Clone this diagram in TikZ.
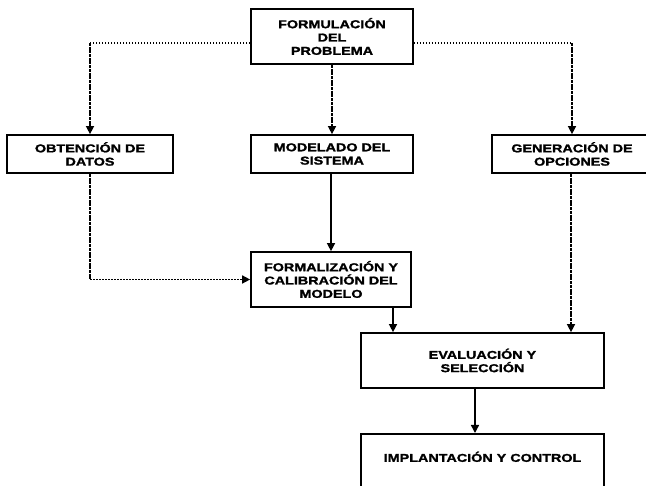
\documentclass[tikz,border=0pt]{standalone}
\usepackage{fontspec}
\newfontfamily\boxfont[FakeStretch=1.26, BoldFeatures={FakeBold=1.6}]{Liberation Sans}
\usetikzlibrary{arrows.meta}
\tikzset{
  stagebox/.style={draw=black, line width=1.7pt, fill=white, inner sep=0pt,
    align=center, font=\boxfont\bfseries\fontsize{11.4}{13.3}\selectfont},
  hdots/.style={line width=1.5pt, dash pattern=on 1.5pt off 1.5pt},
  vdots/.style={line width=1.4pt, dash pattern=on 3pt off 0.7pt},
  plain/.style={line width=1.4pt},
  tip/.style={-{Triangle[length=8pt,width=8pt]}}
}
\begin{document}
\begin{tikzpicture}[x=1pt,y=-1pt]
\useasboundingbox[fill=white] (0,0) rectangle (646,486);
\node[stagebox, minimum width=162pt, minimum height=55pt] (F) at (332,36.5) {FORMULACIÓN\\DEL\\PROBLEMA};
\node[stagebox, minimum width=166pt, minimum height=38pt] (O) at (90,154) {OBTENCIÓN DE\\DATOS};
\node[stagebox, minimum width=162pt, minimum height=38pt] (M) at (332,154) {MODELADO DEL\\SISTEMA};
\node[stagebox, minimum width=160pt, minimum height=38pt] (G) at (572,154) {GENERACIÓN DE\\OPCIONES};
\node[stagebox, minimum width=160pt, minimum height=55pt] (FL) at (331,279.5) {FORMALIZACIÓN Y\\CALIBRACIÓN DEL\\MODELO};
\node[stagebox, minimum width=243pt, minimum height=55pt] (E) at (482.5,360.5) {EVALUACIÓN Y\\SELECCIÓN};
\node[stagebox, minimum width=243pt, anchor=north, inner ysep=20pt, text height=8pt, text depth=40pt] (I) at (482.5,433) {IMPLANTACIÓN Y CONTROL};
\coordinate (c1) at (90,43);
\coordinate (c2) at (572,43);
\coordinate (c3) at (90,279.5);
% from FORMULACION
\draw[hdots] (F.west |- c1) -- (c1);
\draw[vdots,tip] (c1) -- (O.north);
\draw[hdots] (F.east |- c2) -- (c2);
\draw[vdots,tip] (c2) -- (G.north);
\draw[vdots,tip] (F.south) -- (M.north);
% to FORMALIZACION
\draw[plain,tip] ([xshift=-1pt]M.south) -- ([xshift=-1pt]M.south |- FL.north);
\draw[vdots] (O.south) -- (c3);
\draw[hdots,tip] (c3) -- (FL.west);
% to EVALUACION
\draw[vdots,tip] ([xshift=-1pt]G.south) -- ([xshift=-1pt]G.south |- E.north);
\draw[plain,tip] ([xshift=62pt]FL.south) -- ([xshift=62pt]FL.south |- E.north);
\draw[plain,tip] ([xshift=-7.5pt]E.south) -- ([xshift=-7.5pt]E.south |- I.north);
\end{tikzpicture}
\end{document}
